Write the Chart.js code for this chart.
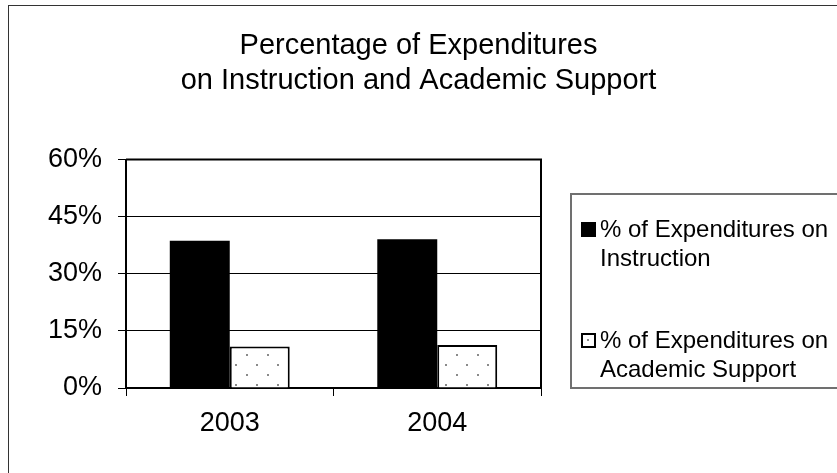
<!DOCTYPE html>
<html>
<head>
<meta charset="utf-8">
<script src="https://cdn.jsdelivr.net/npm/chart.js@4.4.0/dist/chart.umd.min.js"></script>
<style>
  html, body { margin: 0; padding: 0; background: #fff; }
  #wrap { width: 837px; height: 473px; }
</style>
</head>
<body>
<div id="wrap"><canvas id="expChart" width="837" height="473"></canvas></div>
<script>
const years = ["2003", "2004"];
const instruction = [38.7, 39.1];
const academicSupport = [10.9, 11.3];
const seriesNames = [
    ["% of Expenditures on", "Instruction"],
    ["% of Expenditures on", "Academic Support"]
];
const titleLines = ["Percentage of Expenditures", "on Instruction and Academic Support"];
const yTicks = [0, 15, 30, 45, 60];

Chart.defaults.font.family = "'Liberation Sans', Arial, sans-serif";
Chart.defaults.color = "#000";

// white fill with a sparse grey dot pattern, like the old office charts
function dotPattern() {
    const c = document.createElement("canvas");
    c.width = 21;
    c.height = 20;
    const g = c.getContext("2d");
    g.fillStyle = "#fff";
    g.fillRect(0, 0, 21, 20);
    g.fillStyle = "#8a8a8a";
    g.fillRect(4, 4, 2, 2);
    g.fillRect(15, 14, 2, 2);
    return g.createPattern(c, "repeat");
}

const framePlugin = {
    id: "frame",
    beforeDraw(chart) {
        const ctx = chart.ctx;
        ctx.save();
        ctx.strokeStyle = "#333";
        ctx.lineWidth = 1;
        ctx.strokeRect(8.5, 5.5, 840, 480);
        ctx.restore();
    },
    afterDatasetsDraw(chart) {
        const { ctx, chartArea } = chart;
        ctx.save();
        ctx.strokeStyle = "#000";
        ctx.lineWidth = 2;
        ctx.beginPath();
        ctx.moveTo(chartArea.left, chartArea.top);
        ctx.lineTo(chartArea.right, chartArea.top);
        ctx.lineTo(chartArea.right, chartArea.bottom);
        ctx.stroke();
        ctx.restore();
    }
};

const boxLegendPlugin = {
    id: "boxLegend",
    afterDraw(chart) {
        const ctx = chart.ctx;
        ctx.save();
        ctx.strokeStyle = "#707070";
        ctx.lineWidth = 2;
        ctx.strokeRect(571, 194, 280, 194);
        ctx.font = "24px 'Liberation Sans', Arial, sans-serif";
        ctx.textBaseline = "alphabetic";
        ctx.fillStyle = "#000";
        const tops = [222, 333];
        chart.data.datasets.forEach((ds, i) => {
            const y = tops[i];
            if (i === 0) {
                ctx.fillStyle = "#000";
                ctx.fillRect(581, y, 15, 15);
            } else {
                ctx.fillStyle = "#fff";
                ctx.fillRect(582, y + 1, 13, 13);
                ctx.strokeStyle = "#000";
                ctx.lineWidth = 2;
                ctx.strokeRect(582, y + 1, 13, 13);
                ctx.fillStyle = "#8a8a8a";
                ctx.fillRect(587, y + 6, 2, 2);
            }
            ctx.fillStyle = "#000";
            ds.label.forEach((line, k) => {
                ctx.fillText(line, 600, y + 15 + k * 29);
            });
        });
        ctx.restore();
    }
};

const ctx = document.getElementById("expChart").getContext("2d");

new Chart(ctx, {
    type: "bar",
    data: {
        labels: years,
        datasets: [
            {
                label: seriesNames[0],
                data: instruction,
                backgroundColor: "#000",
                borderWidth: 0
            },
            {
                label: seriesNames[1],
                data: academicSupport,
                backgroundColor: dotPattern(),
                borderColor: "#000",
                borderWidth: 2
            }
        ]
    },
    options: {
        responsive: false,
        animation: false,
        datasets: {
            bar: { categoryPercentage: 0.578, barPercentage: 1 }
        },
        layout: { padding: 0 },
        plugins: {
            legend: { display: false },
            tooltip: { enabled: false },
            title: {
                display: true,
                text: titleLines,
                font: { size: 29, weight: "normal", lineHeight: 1.2 },
                color: "#000",
                padding: { top: 29, bottom: 61 }
            }
        },
        scales: {
            x: {
                afterFit(scale) { scale.height = 85; },
                grid: {
                    offset: true,
                    drawOnChartArea: false,
                    drawTicks: true,
                    tickLength: 8,
                    color: "#000"
                },
                border: { display: true, color: "#000", width: 2 },
                ticks: { font: { size: 27 }, padding: 11, color: "#000" }
            },
            y: {
                min: 0,
                max: 60,
                afterFit(scale) { scale.width = 126; },
                afterBuildTicks(scale) {
                    scale.ticks = yTicks.map(v => ({ value: v }));
                },
                grid: {
                    color: "#000",
                    lineWidth: 1,
                    tickLength: 8
                },
                border: { display: true, color: "#000", width: 2 },
                ticks: {
                    font: { size: 27 },
                    padding: 16,
                    color: "#000",
                    callback: v => v + "%"
                }
            },
            // empty right-hand axis, only reserves room for the legend box
            legendRoom: {
                type: "linear",
                position: "right",
                afterFit(scale) { scale.width = 296; },
                grid: { display: false },
                border: { display: false },
                ticks: { display: false }
            }
        }
    },
    plugins: [framePlugin, boxLegendPlugin]
});
</script>
</body>
</html>
